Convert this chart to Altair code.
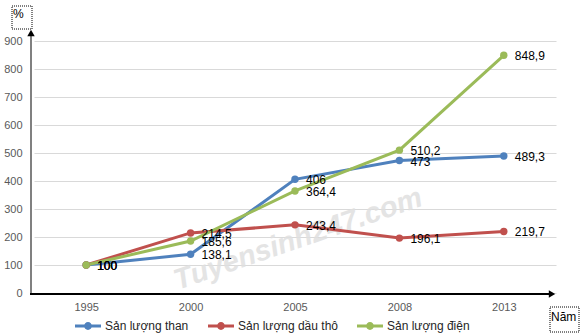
import altair as alt
import pandas as pd

years = ["1995", "2000", "2005", "2008", "2013"]
series_names = ["Sản lượng than", "Sản lượng dầu thô", "Sản lượng điện"]
than = [100, 138.1, 406, 473, 489.3]
dau_tho = [100, 214.5, 243.4, 196.1, 219.7]
dien = [100, 185.6, 364.4, 510.2, 848.9]
colors = ["#4F81BD", "#C0504D", "#9BBB59"]
y_ticks = [0, 100, 200, 300, 400, 500, 600, 700, 800, 900]


def fmt(v):
    return str(v).replace(".", ",")


rows = []
for name, vals in zip(series_names, [than, dau_tho, dien]):
    for yr, v in zip(years, vals):
        rows.append({"year": yr, "series": name, "value": v, "label": fmt(v)})
df = pd.DataFrame(rows)

FONT = "Liberation Sans"
W, H = 522, 252

x_enc = alt.X("year:O", sort=years, title=None,
              scale=alt.Scale(type="point", padding=0.5),
              axis=alt.Axis(labelAngle=0, ticks=False, domain=False, grid=False,
                            labelPadding=8, labelFontSize=11, labelFont=FONT,
                            labelColor="#595959"))
y_enc = alt.Y("value:Q", title=None,
              scale=alt.Scale(domain=[0, 900], nice=False, zero=True),
              axis=alt.Axis(values=y_ticks, ticks=False, domain=False, grid=True,
                            gridColor="#D9D9D9", gridWidth=1, labelPadding=12,
                            labelFontSize=11, labelFont=FONT, labelColor="#595959"))
color_scale = alt.Scale(domain=series_names, range=colors)

legend_path = ("M-1,-0.11H1V0.11H-1Z "
               "M0.3,0A0.3,0.3 0 1,1 -0.3,0A0.3,0.3 0 1,1 0.3,0Z")
legend = alt.Legend(title=None, orient="none", legendX=41, legendY=272,
                    direction="horizontal", symbolType=legend_path,
                    symbolSize=676, symbolStrokeWidth=0, symbolOpacity=1,
                    labelFont=FONT, labelFontSize=12,
                    labelColor="#262626", labelOffset=4,
                    columnPadding=19, padding=0)

base = alt.Chart(df)

color_enc = alt.Color("series:N", scale=color_scale, sort=series_names, legend=legend)

lines = base.mark_line(strokeWidth=3).encode(x=x_enc, y=y_enc, color=color_enc)
points = base.mark_point(filled=True, size=55, opacity=1).encode(
    x=x_enc, y=y_enc, color=color_enc)

labels = base.mark_text(align="left", baseline="middle", dx=11, dy=1,
                        font=FONT, fontSize=12, color="black").encode(
    x=x_enc, y=y_enc, text="label:N"
)

one = pd.DataFrame({"a": [0]})
deco = alt.Chart(one)

watermark = deco.mark_text(text="Tuyensinh247.com", font=FONT, fontSize=29,
                           fontStyle="italic", fontWeight="bold", color="#E0E0E0",
                           opacity=0.85, angle=341, align="center",
                           baseline="middle").encode(
    x=alt.value(264), y=alt.value(198))

y_axis_line = deco.mark_rule(color="#808080", strokeWidth=2).encode(
    x=alt.value(-3), y=alt.value(-5), y2=alt.value(253))
x_axis_line = deco.mark_rule(color="black", strokeWidth=2).encode(
    x=alt.value(-4), x2=alt.value(516), y=alt.value(253))
up_arrow = deco.mark_point(shape="triangle-up", filled=True, size=55,
                           color="black", opacity=1).encode(
    x=alt.value(-3), y=alt.value(-8))
right_arrow = deco.mark_point(shape="triangle-right", filled=True, size=55,
                              color="black", opacity=1).encode(
    x=alt.value(518), y=alt.value(253))

pct_box = deco.mark_rect(fill=None, stroke="black", strokeWidth=1,
                         strokeDash=[1, 1]).encode(
    x=alt.value(-22), x2=alt.value(-2), y=alt.value(-35), y2=alt.value(-12))
pct_text = deco.mark_text(text="%", font=FONT, fontSize=12, color="black",
                          align="left", baseline="middle").encode(
    x=alt.value(-21), y=alt.value(-27))
nam_box = deco.mark_rect(fill=None, stroke="black", strokeWidth=1,
                         strokeDash=[1, 1]).encode(
    x=alt.value(516), x2=alt.value(545), y=alt.value(266), y2=alt.value(291))
nam_text = deco.mark_text(text="Năm", font=FONT, fontSize=12, color="black",
                          align="left", baseline="middle").encode(
    x=alt.value(517), y=alt.value(276))

chart = alt.layer(
    watermark, lines, points, labels,
    y_axis_line, x_axis_line, up_arrow, right_arrow,
    pct_box, pct_text, nam_box, nam_text,
).properties(
    width=W, height=H,
    padding={"left": 34, "top": 41, "right": 28, "bottom": 42},
    autosize=alt.AutoSizeParams(type="none"),
    background="white",
).configure_view(stroke=None)

chart.save("out.html", embed_options={"renderer": "svg", "actions": False})
